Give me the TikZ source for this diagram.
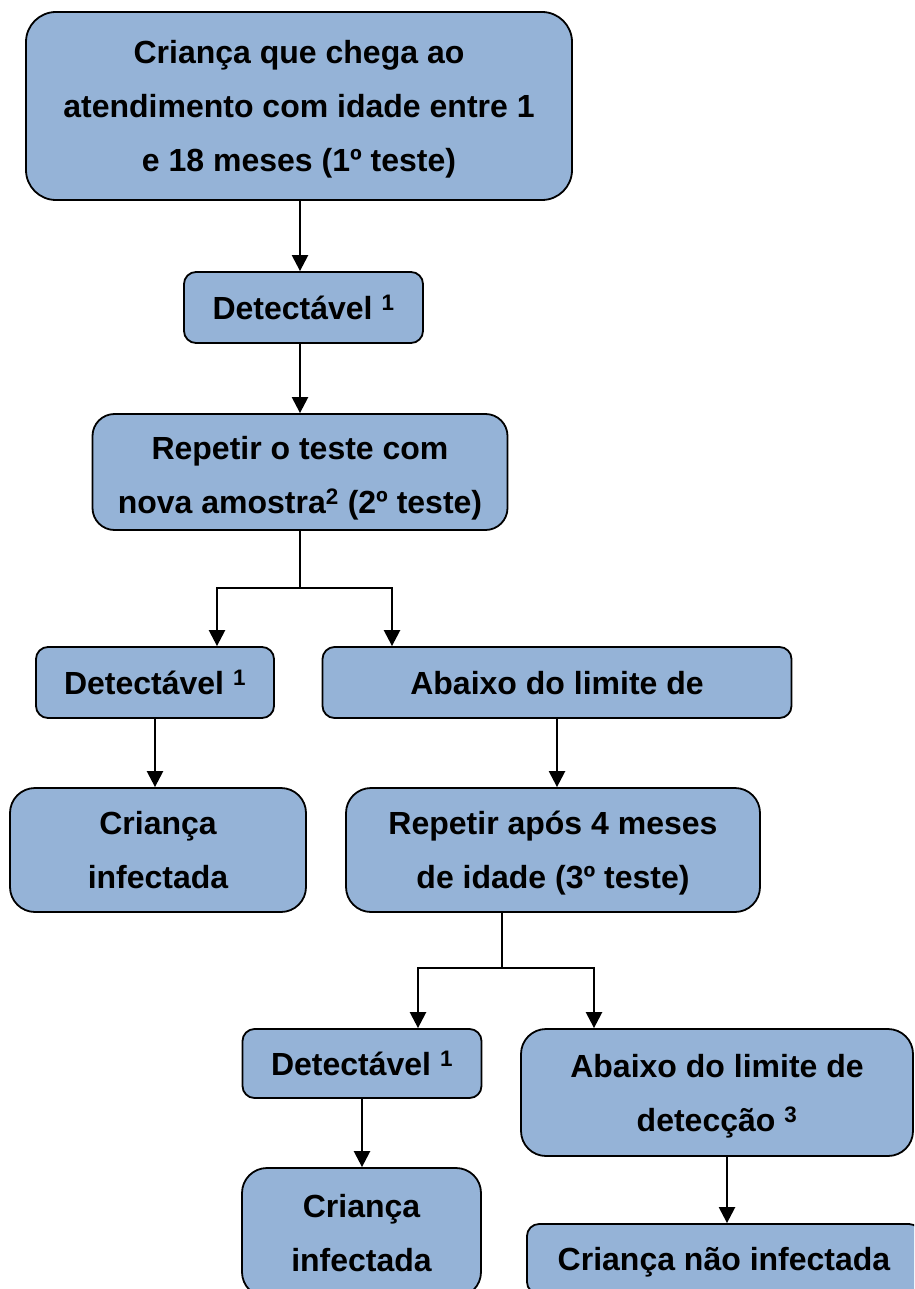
\documentclass[tikz,border=0pt]{standalone}
\usepackage{fontspec}
\setmainfont{Liberation Sans}
\usetikzlibrary{arrows.meta}
\definecolor{boxblue}{HTML}{95B3D7}
\tikzset{
  box/.style={draw=black, fill=boxblue, line width=1.8pt, align=center, inner sep=0pt,
    text depth=0pt, font=\fontsize{32}{54}\selectfont\bfseries},
  conn/.style={line width=2.4pt, draw=black},
  arr/.style={conn, -{Triangle[length=16pt,width=16pt]}}
}
\begin{document}
\begin{tikzpicture}[x=1pt,y=-1pt]
\useasboundingbox (0,0) rectangle (914,1289);
\clip (0,0) rectangle (914,1289);
\fill[white] (0,0) rectangle (914,1289);
\node[box, rounded corners=30pt, minimum width=546pt, minimum height=188pt] (b1) at (299,106)
  {Criança que chega ao\\atendimento com idade entre 1\\e 18 meses (1º teste)};
\node[box, rounded corners=12pt, minimum width=239pt, minimum height=71pt] (b2) at (303.5,307.5)
  {Detectável \textsuperscript{1}};
\node[box, rounded corners=22pt, minimum width=415pt, minimum height=116pt] (b3) at (300,472)
  {\raisebox{-5pt}{Repetir o teste com}\\\raisebox{-5pt}{nova amostra\textsuperscript{2} (2º teste)}};
\node[box, rounded corners=12pt, minimum width=238pt, minimum height=71pt] (b4) at (155,682.5)
  {Detectável \textsuperscript{1}};
\node[box, rounded corners=12pt, minimum width=469pt, minimum height=71pt] (b5) at (557,682.5)
  {Abaixo do limite de};
\node[box, rounded corners=25pt, minimum width=296pt, minimum height=124pt] (b6) at (158,850)
  {Criança\\infectada};
\node[box, rounded corners=25pt, minimum width=414pt, minimum height=124pt] (b7) at (553,850)
  {Repetir após 4 meses\\de idade (3º teste)};
\node[box, rounded corners=12pt, minimum width=239pt, minimum height=69pt] (b8) at (362,1063.5)
  {Detectável \textsuperscript{1}};
\node[box, rounded corners=25pt, minimum width=392pt, minimum height=127pt] (b9) at (717,1092.5)
  {Abaixo do limite de\\detecção \textsuperscript{3}};
\node[box, rounded corners=25pt, minimum width=239pt, minimum height=129pt] (b10) at (361.5,1232.5)
  {Criança\\infectada};
\node[box, rounded corners=12pt, minimum width=394pt, minimum height=70pt] (b11) at (724,1259)
  {Criança não infectada};
% junction coordinates
\coordinate (j1) at (300,588);
\coordinate (t1) at (217,588);
\coordinate (t2) at (392,588);
\coordinate (j2) at (502,968);
\coordinate (t3) at (418,968);
\coordinate (t4) at (594,968);
\coordinate (x1) at (300,0);
\coordinate (x2) at (727,0);
% connectors
\draw[arr] (b1.south -| x1) -- (x1 |- b2.north);
\draw[arr] (b2.south -| x1) -- (x1 |- b3.north);
\draw[conn] (b3.south) -- (j1);
\draw[arr] (j1) -- (t1) -- (t1 |- b4.north);
\draw[arr] (j1) -- (t2) -- (t2 |- b5.north);
\draw[arr] (b4.south) -- (b4.south |- b6.north);
\draw[arr] (b5.south) -- (b5.south |- b7.north);
\draw[conn] (b7.south -| j2) -- (j2);
\draw[arr] (j2) -- (t3) -- (t3 |- b8.north);
\draw[arr] (j2) -- (t4) -- (t4 |- b9.north);
\draw[arr] (b8.south) -- (b8.south |- b10.north);
\draw[arr] (b9.south -| x2) -- (x2 |- b11.north);
\end{tikzpicture}
\end{document}
